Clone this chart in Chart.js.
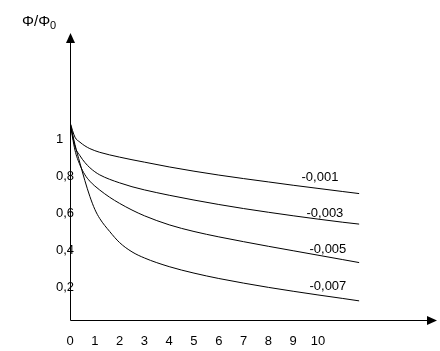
<!DOCTYPE html>
<html>
<head>
<meta charset="utf-8">
<script src="https://cdn.jsdelivr.net/npm/chart.js@4"></script>
<style>
  html, body { margin: 0; padding: 0; background: #fff; }
  canvas { display: block; }
</style>
</head>
<body>
<canvas id="fluxChart" width="440" height="351"></canvas>
<script>
// time points (x) shared by all curves
const times = [0, 0.2, 0.4, 0.6, 0.8, 1, 1.2, 1.6, 2, 2.5, 3, 4, 5, 6, 7, 8, 9, 10, 11, 11.66];

// Φ/Φ0 for each curve
const curve001 = [1.09, 1.01, 0.983, 0.963, 0.948, 0.937, 0.928, 0.914, 0.902, 0.888, 0.875, 0.849, 0.826, 0.805, 0.786, 0.768, 0.75, 0.733, 0.716, 0.705];
const curve003 = [1.09, 0.96, 0.91, 0.873, 0.845, 0.823, 0.806, 0.782, 0.763, 0.742, 0.725, 0.696, 0.67, 0.646, 0.624, 0.604, 0.585, 0.567, 0.55, 0.54];
const curve005 = [1.09, 0.94, 0.86, 0.807, 0.772, 0.746, 0.724, 0.685, 0.652, 0.616, 0.585, 0.536, 0.50, 0.471, 0.445, 0.42, 0.396, 0.372, 0.348, 0.332];
const curve007 = [1.09, 0.97, 0.87, 0.775, 0.69, 0.62, 0.57, 0.50, 0.44, 0.39, 0.357, 0.31, 0.275, 0.246, 0.221, 0.198, 0.177, 0.157, 0.138, 0.125];

const seriesNames = ['-0,001', '-0,003', '-0,005', '-0,007'];
const seriesValues = [curve001, curve003, curve005, curve007];

const xTicks = [0, 1, 2, 3, 4, 5, 6, 7, 8, 9, 10];
const yTicks = [0.2, 0.4, 0.6, 0.8, 1];
const yTickLabels = ['0,2', '0,4', '0,6', '0,8', '1'];

// where the curve names sit (data coords)
const nameSpots = [[10.08, 0.795], [10.28, 0.60], [10.4, 0.405], [10.4, 0.205]];

const FONT = '"Liberation Sans", Arial, sans-serif';

const axesPlugin = {
  id: 'axesPlugin',
  afterDraw(chart) {
    const ctx = chart.ctx;
    const a = chart.chartArea;
    const xs = chart.scales.x, ys = chart.scales.y;
    ctx.save();
    ctx.strokeStyle = '#000';
    ctx.fillStyle = '#000';
    ctx.lineWidth = 1;

    // axes
    ctx.beginPath();
    ctx.moveTo(a.left + 0.5, a.top + 6);
    ctx.lineTo(a.left + 0.5, a.bottom + 0.5);
    ctx.lineTo(a.right - 6, a.bottom + 0.5);
    ctx.stroke();

    // arrow heads
    ctx.beginPath();
    ctx.moveTo(a.left + 0.5, a.top);
    ctx.lineTo(a.left - 4, a.top + 10);
    ctx.lineTo(a.left + 5, a.top + 10);
    ctx.closePath();
    ctx.fill();
    ctx.beginPath();
    ctx.moveTo(a.right, a.bottom + 0.5);
    ctx.lineTo(a.right - 10, a.bottom - 4);
    ctx.lineTo(a.right - 10, a.bottom + 5);
    ctx.closePath();
    ctx.fill();

    // curve names
    ctx.font = '13px ' + FONT;
    ctx.textAlign = 'center';
    ctx.textBaseline = 'middle';
    seriesNames.forEach((name, i) => {
      const p = nameSpots[i];
      ctx.fillText(name, xs.getPixelForValue(p[0]), ys.getPixelForValue(p[1]));
    });

    // y title  Φ/Φ0
    ctx.textAlign = 'left';
    ctx.textBaseline = 'alphabetic';
    ctx.font = '15px ' + FONT;
    ctx.fillText('Φ/Φ', 22, 26);
    const w = ctx.measureText('Φ/Φ').width;
    ctx.font = '11px ' + FONT;
    ctx.fillText('0', 22 + w, 29);
    ctx.restore();
  }
};

new Chart(document.getElementById('fluxChart'), {
  type: 'line',
  data: {
    datasets: seriesValues.map((vals, i) => ({
      label: seriesNames[i],
      data: vals.map((v, k) => ({ x: times[k], y: v })),
      borderColor: '#000',
      borderWidth: 1,
      pointRadius: 0,
      fill: false,
      cubicInterpolationMode: 'monotone'
    }))
  },
  options: {
    responsive: false,
    animation: false,
    layout: { padding: { left: 56, top: 33, right: 3, bottom: 0 } },
    plugins: { legend: { display: false }, tooltip: { enabled: false } },
    scales: {
      x: {
        type: 'linear',
        min: 0,
        max: 14.8,
        grid: { display: false, drawTicks: false },
        border: { display: false },
        afterBuildTicks: s => { s.ticks = xTicks.map(v => ({ value: v })); },
        afterFit: s => { s.height = 31; },
        ticks: {
          color: '#000',
          font: { family: FONT, size: 13 },
          padding: 14,
          maxRotation: 0,
          autoSkip: false
        }
      },
      y: {
        min: 0.0216,
        max: 1.573,
        grid: { display: false, drawTicks: false },
        border: { display: false },
        afterBuildTicks: s => { s.ticks = yTicks.map(v => ({ value: v })); },
        afterFit: s => { s.width = 14; },
        ticks: {
          color: '#000',
          font: { family: FONT, size: 13 },
          mirror: true,
          crossAlign: 'near',
          padding: -14,
          autoSkip: false,
          callback: (v) => yTickLabels[yTicks.indexOf(v)]
        }
      }
    }
  },
  plugins: [axesPlugin]
});
</script>
</body>
</html>
